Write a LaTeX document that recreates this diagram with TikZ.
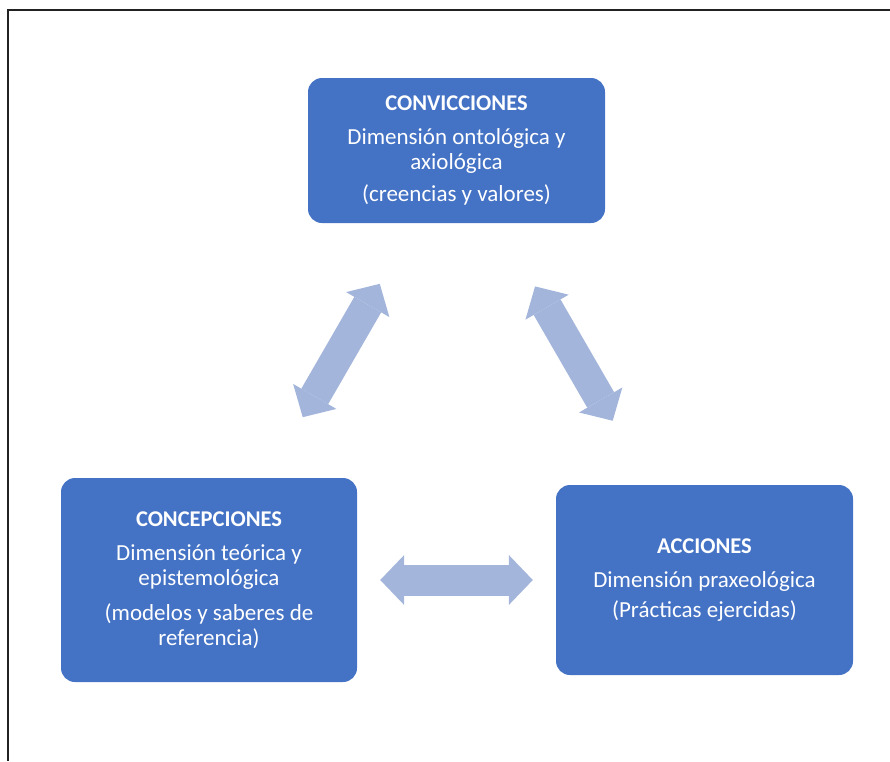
\documentclass[tikz,border=0pt]{standalone}
\usepackage{fontspec}
\setmainfont{Carlito}
\usetikzlibrary{arrows.meta}
\definecolor{boxblue}{HTML}{4472C4}
\definecolor{arrowblue}{HTML}{A4B5DC}
\definecolor{framegray}{HTML}{222222}
\newcommand{\boxtitle}[1]{{\fontsize{22.5}{25}\selectfont\bfseries #1}}
\begin{document}
\begin{tikzpicture}[x=1pt,y=-1pt]
\tikzset{
  dimbox/.style={draw=none, fill=boxblue, rounded corners=14pt, inner sep=0pt,
    text=white, align=center, font=\fontsize{23}{25}\selectfont},
  bigarrow/.style={draw=arrowblue, line width=31pt,
    {Triangle[length=24pt,width=50pt,line width=0pt]}-{Triangle[length=24pt,width=50pt,line width=0pt]}},
}
\useasboundingbox (0,0) rectangle (890,761);
% page frame: top and left rules
\draw[framegray, line width=1.3pt] (8,761) -- (8,10) -- (890,10);

% the three dimensions
\node[dimbox, minimum width=297pt, minimum height=145pt] (conv) at (456.5,150.5)
  {\boxtitle{CONVICCIONES}\\[9pt]Dimensión ontológica y\\axiológica\\[7pt](creencias y valores)};
\node[dimbox, minimum width=296pt, minimum height=204pt] (conc) at (209,580)
  {\boxtitle{CONCEPCIONES}\\[9pt]Dimensión teórica y\\epistemológica\\[10pt](modelos y saberes de\\referencia)};
\node[dimbox, minimum width=297pt, minimum height=190pt] (acc) at (704.5,580)
  {\boxtitle{ACCIONES}\\[9pt]Dimensión praxeológica\\[5pt](Prácticas ejercidas)};

% two-way relations
\draw[bigarrow, shorten <=70pt, shorten >=70pt] (conc) -- (conv);
\draw[bigarrow, shorten <=73pt, shorten >=74pt] (conv) -- (acc);
\draw[bigarrow, shorten <=23pt, shorten >=23pt] (conc) -- (acc);
\end{tikzpicture}
\end{document}
